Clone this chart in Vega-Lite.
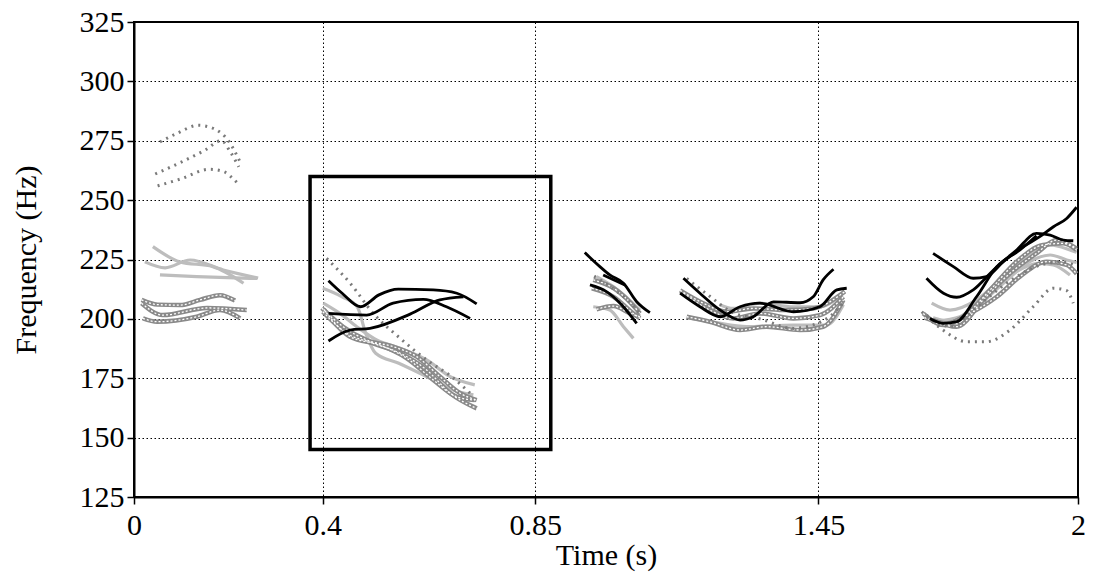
{
  "$schema": "https://vega.github.io/schema/vega-lite/v6.json",
  "width": 944,
  "height": 475,
  "autosize": {"type": "none"},
  "padding": {"left": 134, "top": 22, "right": 15, "bottom": 80},
  "background": "white",
  "config": {
    "view": {"stroke": "black", "strokeWidth": 2},
    "axis": {
      "labelFont": "Liberation Serif", "labelFontSize": 30, "labelColor": "black",
      "titleFont": "Liberation Serif", "titleFontSize": 30, "titleFontWeight": "normal", "titleColor": "black",
      "grid": true, "gridColor": "black", "gridDash": [1.5, 2.5], "gridWidth": 1, "gridOpacity": 1,
      "tickColor": "black", "tickWidth": 1.5, "tickSize": 7,
      "domainColor": "black", "domainWidth": 2,
      "labelFlush": false, "labelOverlap": false
    }
  },
  "datasets": {
    "lines": [
      {"id":"s1_d1","s":"dot","t":0.055,"f":274.5},{"id":"s1_d1","s":"dot","t":0.09,"f":278},{"id":"s1_d1","s":"dot","t":0.136,"f":281.5},{"id":"s1_d1","s":"dot","t":0.17,"f":280},{"id":"s1_d1","s":"dot","t":0.2,"f":275},{"id":"s1_d1","s":"dot","t":0.225,"f":266},
      {"id":"s1_d2","s":"dot","t":0.045,"f":261},{"id":"s1_d2","s":"dot","t":0.1,"f":266},{"id":"s1_d2","s":"dot","t":0.15,"f":271},{"id":"s1_d2","s":"dot","t":0.185,"f":275},{"id":"s1_d2","s":"dot","t":0.205,"f":270},{"id":"s1_d2","s":"dot","t":0.222,"f":264},
      {"id":"s1_d3","s":"dot","t":0.05,"f":256},{"id":"s1_d3","s":"dot","t":0.1,"f":259},{"id":"s1_d3","s":"dot","t":0.16,"f":263},{"id":"s1_d3","s":"dot","t":0.19,"f":262},{"id":"s1_d3","s":"dot","t":0.21,"f":259},{"id":"s1_d3","s":"dot","t":0.225,"f":256},
      {"id":"s1_g1","s":"gray","t":0.04,"f":230.4},{"id":"s1_g1","s":"gray","t":0.097,"f":224},{"id":"s1_g1","s":"gray","t":0.167,"f":222},{"id":"s1_g1","s":"gray","t":0.232,"f":215},
      {"id":"s1_g2","s":"gray","t":0.023,"f":224},{"id":"s1_g2","s":"gray","t":0.066,"f":221.5},{"id":"s1_g2","s":"gray","t":0.119,"f":224.8},{"id":"s1_g2","s":"gray","t":0.189,"f":220.6},{"id":"s1_g2","s":"gray","t":0.263,"f":217.2},
      {"id":"s1_g3","s":"gray","t":0.055,"f":218.5},{"id":"s1_g3","s":"gray","t":0.133,"f":217.8},{"id":"s1_g3","s":"gray","t":0.261,"f":217},
      {"id":"s1_w1","s":"dbl","t":0.016,"f":208},{"id":"s1_w1","s":"dbl","t":0.05,"f":206},{"id":"s1_w1","s":"dbl","t":0.097,"f":205.8},{"id":"s1_w1","s":"dbl","t":0.14,"f":208},{"id":"s1_w1","s":"dbl","t":0.182,"f":210},{"id":"s1_w1","s":"dbl","t":0.214,"f":207.7},
      {"id":"s1_w2","s":"dbl","t":0.016,"f":206.6},{"id":"s1_w2","s":"dbl","t":0.061,"f":201.6},{"id":"s1_w2","s":"dbl","t":0.155,"f":204.6},{"id":"s1_w2","s":"dbl","t":0.239,"f":203.7},
      {"id":"s1_w3","s":"dbl","t":0.019,"f":200.2},{"id":"s1_w3","s":"dbl","t":0.049,"f":198.8},{"id":"s1_w3","s":"dbl","t":0.133,"f":200.9},{"id":"s1_w3","s":"dbl","t":0.182,"f":203.7},{"id":"s1_w3","s":"dbl","t":0.225,"f":200.2},

      {"id":"s2_g1","s":"gray","t":0.4,"f":212.9},{"id":"s2_g1","s":"gray","t":0.441,"f":209.3},{"id":"s2_g1","s":"gray","t":0.473,"f":205.1},{"id":"s2_g1","s":"gray","t":0.491,"f":193.9},{"id":"s2_g1","s":"gray","t":0.512,"f":185.5},{"id":"s2_g1","s":"gray","t":0.561,"f":181.3},{"id":"s2_g1","s":"gray","t":0.634,"f":174.3},{"id":"s2_g1","s":"gray","t":0.676,"f":170.1},{"id":"s2_g1","s":"gray","t":0.719,"f":168},
      {"id":"s2_g2","s":"gray","t":0.401,"f":206.6},{"id":"s2_g2","s":"gray","t":0.436,"f":202.3},{"id":"s2_g2","s":"gray","t":0.472,"f":196.7},{"id":"s2_g2","s":"gray","t":0.514,"f":191.1},{"id":"s2_g2","s":"gray","t":0.564,"f":187.6},{"id":"s2_g2","s":"gray","t":0.62,"f":182.7},{"id":"s2_g2","s":"gray","t":0.67,"f":175.7},{"id":"s2_g2","s":"gray","t":0.722,"f":172.2},
      {"id":"s2_w1","s":"dbl","t":0.398,"f":204.5},{"id":"s2_w1","s":"dbl","t":0.443,"f":196.7},{"id":"s2_w1","s":"dbl","t":0.493,"f":191.1},{"id":"s2_w1","s":"dbl","t":0.549,"f":188.3},{"id":"s2_w1","s":"dbl","t":0.599,"f":184.1},{"id":"s2_w1","s":"dbl","t":0.648,"f":175.7},{"id":"s2_w1","s":"dbl","t":0.691,"f":168.7},{"id":"s2_w1","s":"dbl","t":0.726,"f":165.8},
      {"id":"s2_w2","s":"dbl","t":0.4,"f":203},{"id":"s2_w2","s":"dbl","t":0.451,"f":193.9},{"id":"s2_w2","s":"dbl","t":0.507,"f":189.7},{"id":"s2_w2","s":"dbl","t":0.564,"f":185.5},{"id":"s2_w2","s":"dbl","t":0.62,"f":178.5},{"id":"s2_w2","s":"dbl","t":0.67,"f":168.7},{"id":"s2_w2","s":"dbl","t":0.726,"f":162.3},
      {"id":"s2_w3","s":"dbl","t":0.402,"f":204},{"id":"s2_w3","s":"dbl","t":0.458,"f":192.5},{"id":"s2_w3","s":"dbl","t":0.521,"f":189},{"id":"s2_w3","s":"dbl","t":0.578,"f":183.4},{"id":"s2_w3","s":"dbl","t":0.634,"f":174.3},{"id":"s2_w3","s":"dbl","t":0.684,"f":167.2},{"id":"s2_w3","s":"dbl","t":0.722,"f":165.8},
      {"id":"s2_d1","s":"dot","t":0.408,"f":225.5},{"id":"s2_d1","s":"dot","t":0.458,"f":215},{"id":"s2_d1","s":"dot","t":0.507,"f":202.3},{"id":"s2_d1","s":"dot","t":0.564,"f":191.8},{"id":"s2_d1","s":"dot","t":0.62,"f":182.7},{"id":"s2_d1","s":"dot","t":0.677,"f":175},{"id":"s2_d1","s":"dot","t":0.712,"f":168.7},
      {"id":"s2_b1","s":"black","t":0.412,"f":216.1},{"id":"s2_b1","s":"black","t":0.441,"f":210.8},{"id":"s2_b1","s":"black","t":0.48,"f":205.1},{"id":"s2_b1","s":"black","t":0.519,"f":210.1},{"id":"s2_b1","s":"black","t":0.56,"f":212.5},{"id":"s2_b1","s":"black","t":0.634,"f":212.2},{"id":"s2_b1","s":"black","t":0.684,"f":210.8},{"id":"s2_b1","s":"black","t":0.726,"f":206.3},
      {"id":"s2_b2","s":"black","t":0.412,"f":202.3},{"id":"s2_b2","s":"black","t":0.493,"f":201.6},{"id":"s2_b2","s":"black","t":0.549,"f":206.6},{"id":"s2_b2","s":"black","t":0.613,"f":208.2},{"id":"s2_b2","s":"black","t":0.662,"f":205.1},{"id":"s2_b2","s":"black","t":0.712,"f":200.2},
      {"id":"s2_b3","s":"black","t":0.412,"f":190.7},{"id":"s2_b3","s":"black","t":0.458,"f":195.3},{"id":"s2_b3","s":"black","t":0.5,"f":196},{"id":"s2_b3","s":"black","t":0.585,"f":202},{"id":"s2_b3","s":"black","t":0.648,"f":208},{"id":"s2_b3","s":"black","t":0.698,"f":209.3},

      {"id":"s3_g1","s":"gray","t":0.973,"f":205.1},{"id":"s3_g1","s":"gray","t":1.008,"f":203.7},{"id":"s3_g1","s":"gray","t":1.037,"f":196.7},{"id":"s3_g1","s":"gray","t":1.058,"f":191.8},
      {"id":"s3_g2","s":"gray","t":0.98,"f":217.8},{"id":"s3_g2","s":"gray","t":1.016,"f":213.5},{"id":"s3_g2","s":"gray","t":1.072,"f":203.7},
      {"id":"s3_w1","s":"dbl","t":0.973,"f":216.4},{"id":"s3_w1","s":"dbl","t":1.016,"f":212.9},{"id":"s3_w1","s":"dbl","t":1.051,"f":207},{"id":"s3_w1","s":"dbl","t":1.072,"f":202.3},
      {"id":"s3_w2","s":"dbl","t":0.97,"f":212.9},{"id":"s3_w2","s":"dbl","t":1.016,"f":209.3},{"id":"s3_w2","s":"dbl","t":1.058,"f":202.3},{"id":"s3_w2","s":"dbl","t":1.072,"f":200.2},
      {"id":"s3_w3","s":"dbl","t":0.98,"f":204},{"id":"s3_w3","s":"dbl","t":1.016,"f":205.4},{"id":"s3_w3","s":"dbl","t":1.051,"f":202.3},{"id":"s3_w3","s":"dbl","t":1.072,"f":200.9},
      {"id":"s3_d1","s":"dot","t":0.975,"f":218},{"id":"s3_d1","s":"dot","t":1.02,"f":212},{"id":"s3_d1","s":"dot","t":1.06,"f":205},{"id":"s3_d1","s":"dot","t":1.075,"f":201},
      {"id":"s3_b1","s":"black","t":0.955,"f":227.9},{"id":"s3_b1","s":"black","t":0.987,"f":222},{"id":"s3_b1","s":"black","t":1.008,"f":218.5},{"id":"s3_b1","s":"black","t":1.037,"f":215},{"id":"s3_b1","s":"black","t":1.065,"f":207.2},{"id":"s3_b1","s":"black","t":1.093,"f":202.6},
      {"id":"s3_b2","s":"black","t":0.966,"f":214.3},{"id":"s3_b2","s":"black","t":1.001,"f":211.5},{"id":"s3_b2","s":"black","t":1.03,"f":206.6},{"id":"s3_b2","s":"black","t":1.065,"f":198.1},
      {"id":"s3_b3","s":"black","t":0.994,"f":218.5},{"id":"s3_b3","s":"black","t":1.04,"f":214.3},

      {"id":"s4_g1","s":"gray","t":1.24,"f":206},{"id":"s4_g1","s":"gray","t":1.27,"f":204.4},{"id":"s4_g1","s":"gray","t":1.326,"f":206.6},{"id":"s4_g1","s":"gray","t":1.397,"f":205.1},{"id":"s4_g1","s":"gray","t":1.453,"f":205.1},{"id":"s4_g1","s":"gray","t":1.506,"f":211.5},
      {"id":"s4_g2","s":"gray","t":1.171,"f":200.5},{"id":"s4_g2","s":"gray","t":1.23,"f":198.5},{"id":"s4_g2","s":"gray","t":1.298,"f":196.7},{"id":"s4_g2","s":"gray","t":1.397,"f":197.4},{"id":"s4_g2","s":"gray","t":1.467,"f":197.4},{"id":"s4_g2","s":"gray","t":1.503,"f":206},
      {"id":"s4_w1","s":"dbl","t":1.157,"f":212},{"id":"s4_w1","s":"dbl","t":1.206,"f":206.6},{"id":"s4_w1","s":"dbl","t":1.256,"f":203},{"id":"s4_w1","s":"dbl","t":1.312,"f":204.4},{"id":"s4_w1","s":"dbl","t":1.383,"f":203.7},{"id":"s4_w1","s":"dbl","t":1.439,"f":204.4},{"id":"s4_w1","s":"dbl","t":1.506,"f":211.5},
      {"id":"s4_w2","s":"dbl","t":1.171,"f":200.9},{"id":"s4_w2","s":"dbl","t":1.22,"f":198.8},{"id":"s4_w2","s":"dbl","t":1.284,"f":195.3},{"id":"s4_w2","s":"dbl","t":1.34,"f":196.7},{"id":"s4_w2","s":"dbl","t":1.411,"f":195.3},{"id":"s4_w2","s":"dbl","t":1.46,"f":196.7},{"id":"s4_w2","s":"dbl","t":1.503,"f":208},
      {"id":"s4_w3","s":"dbl","t":1.164,"f":210.8},{"id":"s4_w3","s":"dbl","t":1.22,"f":203.7},{"id":"s4_w3","s":"dbl","t":1.27,"f":200.2},{"id":"s4_w3","s":"dbl","t":1.326,"f":202.3},{"id":"s4_w3","s":"dbl","t":1.397,"f":200.2},{"id":"s4_w3","s":"dbl","t":1.453,"f":201.6},{"id":"s4_w3","s":"dbl","t":1.503,"f":209.3},
      {"id":"s4_d1","s":"dot","t":1.171,"f":217},{"id":"s4_d1","s":"dot","t":1.22,"f":209.5},{"id":"s4_d1","s":"dot","t":1.27,"f":202.5},{"id":"s4_d1","s":"dot","t":1.326,"f":200},{"id":"s4_d1","s":"dot","t":1.397,"f":196},{"id":"s4_d1","s":"dot","t":1.467,"f":200},{"id":"s4_d1","s":"dot","t":1.503,"f":207},
      {"id":"s4_b1","s":"black","t":1.164,"f":217.1},{"id":"s4_b1","s":"black","t":1.199,"f":210.8},{"id":"s4_b1","s":"black","t":1.242,"f":203.7},{"id":"s4_b1","s":"black","t":1.284,"f":199.5},{"id":"s4_b1","s":"black","t":1.312,"f":200.9},{"id":"s4_b1","s":"black","t":1.355,"f":207.2},{"id":"s4_b1","s":"black","t":1.411,"f":206.8},{"id":"s4_b1","s":"black","t":1.439,"f":209.3},{"id":"s4_b1","s":"black","t":1.46,"f":216.4},{"id":"s4_b1","s":"black","t":1.482,"f":220.9},
      {"id":"s4_b2","s":"black","t":1.157,"f":210.8},{"id":"s4_b2","s":"black","t":1.199,"f":205.1},{"id":"s4_b2","s":"black","t":1.242,"f":200.9},{"id":"s4_b2","s":"black","t":1.284,"f":205.1},{"id":"s4_b2","s":"black","t":1.326,"f":206.6},{"id":"s4_b2","s":"black","t":1.397,"f":203},{"id":"s4_b2","s":"black","t":1.453,"f":205.1},{"id":"s4_b2","s":"black","t":1.489,"f":212.2},{"id":"s4_b2","s":"black","t":1.51,"f":212.9},

      {"id":"s5_g1","s":"gray","t":1.69,"f":206.6},{"id":"s5_g1","s":"gray","t":1.729,"f":203.7},{"id":"s5_g1","s":"gray","t":1.785,"f":208},{"id":"s5_g1","s":"gray","t":1.842,"f":217.8},{"id":"s5_g1","s":"gray","t":1.898,"f":227.6},{"id":"s5_g1","s":"gray","t":1.941,"f":231.1},{"id":"s5_g1","s":"gray","t":1.983,"f":229},{"id":"s5_g1","s":"gray","t":1.997,"f":228},
      {"id":"s5_g2","s":"gray","t":1.693,"f":200.5},{"id":"s5_g2","s":"gray","t":1.736,"f":198.8},{"id":"s5_g2","s":"gray","t":1.785,"f":205.1},{"id":"s5_g2","s":"gray","t":1.842,"f":215},{"id":"s5_g2","s":"gray","t":1.898,"f":224.1},{"id":"s5_g2","s":"gray","t":1.941,"f":226.9},{"id":"s5_g2","s":"gray","t":1.976,"f":224.8},{"id":"s5_g2","s":"gray","t":1.997,"f":223.7},
      {"id":"s5_g3","s":"gray","t":1.7,"f":199},{"id":"s5_g3","s":"gray","t":1.75,"f":200.9},{"id":"s5_g3","s":"gray","t":1.806,"f":210.8},{"id":"s5_g3","s":"gray","t":1.863,"f":219.2},{"id":"s5_g3","s":"gray","t":1.919,"f":223.4},{"id":"s5_g3","s":"gray","t":1.948,"f":222.7},{"id":"s5_g3","s":"gray","t":1.983,"f":218.5},
      {"id":"s5_w1","s":"dbl","t":1.672,"f":202.3},{"id":"s5_w1","s":"dbl","t":1.715,"f":197.4},{"id":"s5_w1","s":"dbl","t":1.757,"f":200.9},{"id":"s5_w1","s":"dbl","t":1.814,"f":212.2},{"id":"s5_w1","s":"dbl","t":1.87,"f":224.1},{"id":"s5_w1","s":"dbl","t":1.926,"f":231.1},{"id":"s5_w1","s":"dbl","t":1.969,"f":231.8},{"id":"s5_w1","s":"dbl","t":1.997,"f":229},
      {"id":"s5_w2","s":"dbl","t":1.675,"f":200.5},{"id":"s5_w2","s":"dbl","t":1.722,"f":198.1},{"id":"s5_w2","s":"dbl","t":1.771,"f":202.3},{"id":"s5_w2","s":"dbl","t":1.828,"f":209.3},{"id":"s5_w2","s":"dbl","t":1.877,"f":217.8},{"id":"s5_w2","s":"dbl","t":1.934,"f":224.1},{"id":"s5_w2","s":"dbl","t":1.976,"f":222.7},{"id":"s5_w2","s":"dbl","t":1.997,"f":219},
      {"id":"s5_w3","s":"dbl","t":1.693,"f":199.5},{"id":"s5_w3","s":"dbl","t":1.743,"f":196.7},{"id":"s5_w3","s":"dbl","t":1.799,"f":208},{"id":"s5_w3","s":"dbl","t":1.856,"f":219.2},{"id":"s5_w3","s":"dbl","t":1.912,"f":227.6},{"id":"s5_w3","s":"dbl","t":1.955,"f":233.2},{"id":"s5_w3","s":"dbl","t":1.997,"f":229.6},
      {"id":"s5_d1","s":"dot","t":1.669,"f":203},{"id":"s5_d1","s":"dot","t":1.714,"f":195.3},{"id":"s5_d1","s":"dot","t":1.764,"f":190.4},{"id":"s5_d1","s":"dot","t":1.806,"f":190.4},{"id":"s5_d1","s":"dot","t":1.856,"f":195.3},{"id":"s5_d1","s":"dot","t":1.905,"f":205.1},{"id":"s5_d1","s":"dot","t":1.948,"f":212.9},{"id":"s5_d1","s":"dot","t":1.975,"f":212},{"id":"s5_d1","s":"dot","t":1.99,"f":206.6},
      {"id":"s5_d2","s":"dot","t":1.679,"f":201.5},{"id":"s5_d2","s":"dot","t":1.729,"f":196.7},{"id":"s5_d2","s":"dot","t":1.785,"f":205},{"id":"s5_d2","s":"dot","t":1.856,"f":216},{"id":"s5_d2","s":"dot","t":1.926,"f":223},{"id":"s5_d2","s":"dot","t":1.969,"f":224},{"id":"s5_d2","s":"dot","t":1.997,"f":222},
      {"id":"s5_b1","s":"black","t":1.693,"f":227.6},{"id":"s5_b1","s":"black","t":1.736,"f":222},{"id":"s5_b1","s":"black","t":1.778,"f":217.1},{"id":"s5_b1","s":"black","t":1.806,"f":217.8},{"id":"s5_b1","s":"black","t":1.842,"f":224.1},{"id":"s5_b1","s":"black","t":1.884,"f":230.4},{"id":"s5_b1","s":"black","t":1.919,"f":234.6},{"id":"s5_b1","s":"black","t":1.948,"f":238.8},{"id":"s5_b1","s":"black","t":1.976,"f":242.3},{"id":"s5_b1","s":"black","t":1.997,"f":247},
      {"id":"s5_b2","s":"black","t":1.679,"f":217.1},{"id":"s5_b2","s":"black","t":1.715,"f":210.8},{"id":"s5_b2","s":"black","t":1.743,"f":209.1},{"id":"s5_b2","s":"black","t":1.778,"f":212.2},{"id":"s5_b2","s":"black","t":1.821,"f":220.6},{"id":"s5_b2","s":"black","t":1.87,"f":229},{"id":"s5_b2","s":"black","t":1.912,"f":236},{"id":"s5_b2","s":"black","t":1.941,"f":235.3},{"id":"s5_b2","s":"black","t":1.969,"f":233.2},{"id":"s5_b2","s":"black","t":1.99,"f":232.9},
      {"id":"s5_b3","s":"black","t":1.686,"f":200.2},{"id":"s5_b3","s":"black","t":1.715,"f":198.1},{"id":"s5_b3","s":"black","t":1.743,"f":198.8},{"id":"s5_b3","s":"black","t":1.785,"f":209.3},{"id":"s5_b3","s":"black","t":1.828,"f":222},{"id":"s5_b3","s":"black","t":1.877,"f":229},{"id":"s5_b3","s":"black","t":1.912,"f":235}
    ],
    "box": [{"t": 0.373, "t2": 0.883, "f": 260, "f2": 145}]
  },
  "encoding": {
    "x": {"field": "t", "type": "quantitative",
      "scale": {"domain": [0, 2], "nice": false, "zero": false},
      "axis": {"values": [0, 0.4, 0.85, 1.45, 2], "format": ".3~g", "title": "Time (s)", "labelPadding": 6, "titlePadding": 0}},
    "y": {"field": "f", "type": "quantitative",
      "scale": {"domain": [125, 325], "nice": false, "zero": false},
      "axis": {"values": [125, 150, 175, 200, 225, 250, 275, 300, 325], "format": "d", "title": "Frequency (Hz)", "labelPadding": 3, "titlePadding": 38}}
  },
  "layer": [
    {"data": {"name": "box"}, "mark": {"type": "rect", "filled": false, "stroke": "black", "strokeWidth": 3.5},
      "encoding": {"x2": {"field": "t2"}, "y2": {"field": "f2"}}},
    {"data": {"name": "lines"}, "transform": [{"filter": "datum.s === 'gray'"}],
      "mark": {"type": "line", "interpolate": "monotone", "stroke": "#bdbdbd", "strokeWidth": 3.2},
      "encoding": {"detail": {"field": "id"}}},
    {"data": {"name": "lines"}, "transform": [{"filter": "datum.s === 'dbl'"}],
      "mark": {"type": "line", "interpolate": "monotone", "stroke": "#8a8a8a", "strokeWidth": 4.5},
      "encoding": {"detail": {"field": "id"}}},
    {"data": {"name": "lines"}, "transform": [{"filter": "datum.s === 'dbl'"}],
      "mark": {"type": "line", "interpolate": "monotone", "stroke": "white", "strokeWidth": 1.3, "strokeDash": [2, 2]},
      "encoding": {"detail": {"field": "id"}}},
    {"data": {"name": "lines"}, "transform": [{"filter": "datum.s === 'dot'"}],
      "mark": {"type": "line", "interpolate": "monotone", "stroke": "#7a7a7a", "strokeWidth": 3, "strokeDash": [2, 5]},
      "encoding": {"detail": {"field": "id"}}},
    {"data": {"name": "lines"}, "transform": [{"filter": "datum.s === 'black'"}],
      "mark": {"type": "line", "interpolate": "monotone", "stroke": "black", "strokeWidth": 2.8},
      "encoding": {"detail": {"field": "id"}}}
  ]
}
